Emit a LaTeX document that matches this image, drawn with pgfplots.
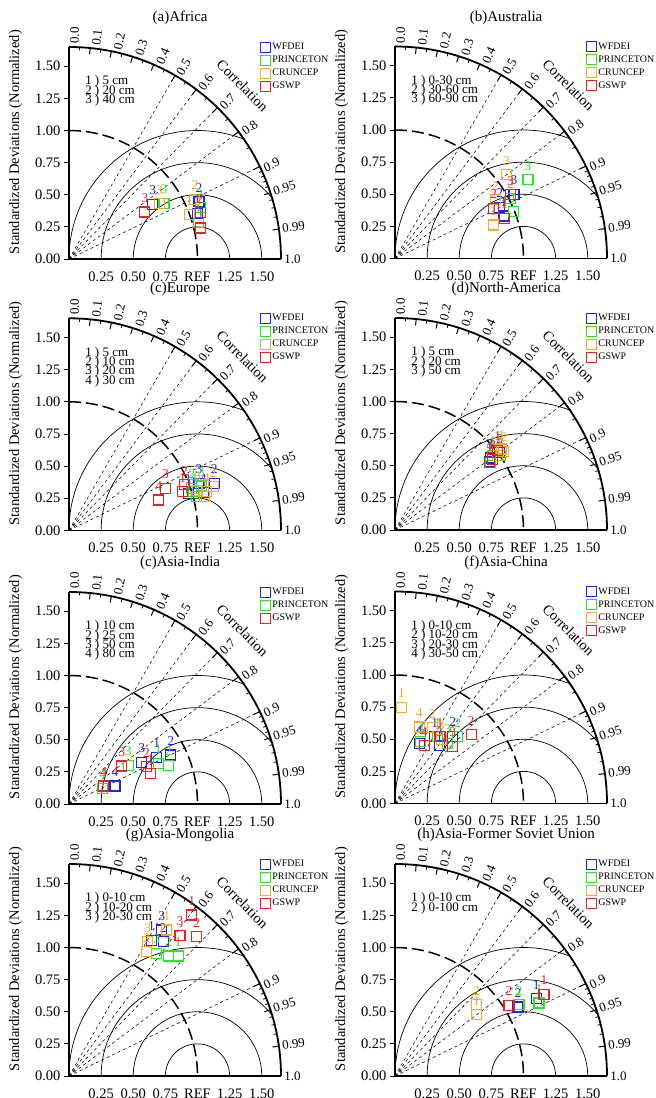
\documentclass[border=0pt]{standalone}
\usepackage{pgfplots}
\pgfplotsset{compat=1.18}
\usepackage{fontspec}
\setmainfont{Liberation Serif}
\definecolor{cWF}{RGB}{35,35,225}
\definecolor{cPR}{RGB}{45,225,45}
\definecolor{cCR}{RGB}{245,170,40}
\definecolor{cGS}{RGB}{230,35,35}
\newcommand{\corrfont}{\fontsize{13}{14}\selectfont}
% correlation label: text, rotation, x, y
\newcommand{\CL}[4]{\node[rotate=#2, anchor=west, inner sep=0pt, font=\corrfont] at (#3,#4) {#1};}
\newcommand{\MajT}[1]{\draw[line width=1pt] ({1.65*#1},{1.65*sqrt(1-#1*#1)}) -- ({1.60*#1},{1.60*sqrt(1-#1*#1)});}
\newcommand{\MinT}[1]{\draw[line width=0.8pt] ({1.65*#1},{1.65*sqrt(1-#1*#1)}) -- ({1.625*#1},{1.625*sqrt(1-#1*#1)});}
\newcommand{\Ray}[1]{\draw[line width=0.55pt, dash pattern=on 3pt off 3pt] (0,0) -- ({1.65*#1},{1.65*sqrt(1-#1*#1)});}
\newcommand{\TaylorFrame}{%
  \draw[line width=0.7pt] (0.75,0) arc[start angle=180,end angle=0,radius=0.25];
  \draw[line width=0.7pt] (0.5,0) arc[start angle=180,end angle=0,radius=0.5];
  \draw[line width=0.7pt] (0.25,0) arc[start angle=180,end angle=39.3,radius=0.75];
  \draw[line width=0.7pt] (0,0) arc[start angle=180,end angle=68.8,radius=1];
  \Ray{0.5}\Ray{0.6}\Ray{0.7}\Ray{0.8}\Ray{0.9}
  \draw[line width=1.5pt, dash pattern=on 12pt off 5pt] (0,1) arc[start angle=90,end angle=0,radius=1];
  \draw[line width=1.8pt] (0,1.65) arc[start angle=90,end angle=0,radius=1.65];
  \MajT{0.1}\MajT{0.2}\MajT{0.3}\MajT{0.4}\MajT{0.5}\MajT{0.6}\MajT{0.7}\MajT{0.8}\MajT{0.9}\MajT{0.95}\MajT{0.99}
  \MinT{0.05}\MinT{0.15}\MinT{0.25}\MinT{0.35}\MinT{0.45}\MinT{0.55}\MinT{0.65}\MinT{0.75}\MinT{0.85}
  \MinT{0.91}\MinT{0.92}\MinT{0.93}\MinT{0.94}\MinT{0.96}\MinT{0.97}\MinT{0.98}
  \CL{0.0}{90}{0.0438}{1.6744}
  \CL{0.1}{84.261}{0.2109}{1.6617}
  \CL{0.2}{78.463}{0.3787}{1.6316}
  \CL{0.3}{72.542}{0.5443}{1.5841}
  \CL{0.4}{66.422}{0.7050}{1.5194}
  \CL{0.5}{60}{0.8597}{1.4375}
  \CL{0.6}{53.130}{1.0257}{1.3241}
  \CL{0.7}{45.573}{1.1892}{1.1796}
  \CL{0.8}{36.870}{1.3558}{0.9836}
  \CL{0.9}{25.842}{1.5190}{0.7059}
  \CL{0.95}{18.195}{1.5913}{0.5230}
  \CL{0.99}{8.110}{1.6583}{0.2363}
  \CL{1.0}{0}{1.675}{0}
  \node[rotate=-45, font=\fontsize{14.5}{16}\selectfont] at (1.3506,1.3506) {Correlation};
  \node[rotate=90, font=\fontsize{14.5}{16}\selectfont] at (-0.415,0.91) {Standardized Deviations (Normalized)};
}
\newcommand{\PanelTitle}[1]{\node[font=\fontsize{15}{17}\selectfont] at (0.865,1.875) {#1};}
% depth legend line: baseline y, text
\newcommand{\DL}[2]{\node[anchor=base west, inner sep=0pt, font=\fontsize{13}{13}\selectfont] at (0.125,#1) {#2};}
\newcommand{\DepthsThree}[3]{\DL{1.355}{#1}\DL{1.2826}{#2}\DL{1.2102}{#3}}
\newcommand{\DepthsFour}[4]{\DL{1.355}{#1}\DL{1.2826}{#2}\DL{1.2102}{#3}\DL{1.1378}{#4}}
\pgfplotsset{
  taylor/.style={
    scale only axis, width=212pt, height=212pt,
    xmin=0, xmax=1.65, ymin=0, ymax=1.65,
    anchor=south west,
    axis lines*=left,
    axis line style={line width=1.3pt},
    clip=false,
    xtick={0.25,0.5,0.75,1,1.25,1.5},
    xticklabels={0.25,0.50,0.75,REF,1.25,1.50},
    ytick={0,0.25,0.5,0.75,1,1.25,1.5},
    yticklabels={0.00,0.25,0.50,0.75,1.00,1.25,1.50},
    tick label style={font=\fontsize{14.5}{16}\selectfont},
    x tick style={draw=none},
    y tick style={line width=0.8pt, black},
    tick align=outside, major tick length=5pt,
    xticklabel style={yshift=-4pt},
    legend style={at={(0.9006,1.0242)}, anchor=north west, draw=none, fill=none, inner sep=0pt,
      font=\fontsize{10}{12}\selectfont, row sep=3pt, column sep=1.5pt, nodes={inner sep=0.8pt}},
    legend cell align=left,
  },
  pt/.style={only marks, mark=square, mark size=5pt, mark options={line width=1.1pt},
    nodes near coords, point meta=explicit symbolic,
    every node near coord/.append style={inner sep=0pt, yshift=9pt, font=\fontsize{13.5}{14}\selectfont}},
  wf/.style={pt, color=cWF},
  pr/.style={pt, color=cPR},
  cr/.style={pt, color=cCR},
  gs/.style={pt, color=cGS},
}
\begin{document}
\begin{tikzpicture}
\useasboundingbox (0,0) rectangle (656pt,1098pt);
% (a) Africa
\begin{axis}[taylor, at={(69pt,839pt)}]
\TaylorFrame
\PanelTitle{(a)Africa}
\DepthsThree{1 ) 5 cm}{2 ) 20 cm}{3 ) 40 cm}
\addplot[wf] coordinates {(0.999,0.356) [1] (1.012,0.445) [2] (0.651,0.425) [3]}; \addlegendentry{WFDEI}
\addplot[pr] coordinates {(1.006,0.283) [1] (1.02,0.40) [2] (0.739,0.433) [3]}; \addlegendentry{PRINCETON}
\addplot[cr] coordinates {(0.936,0.345) [1] (0.98,0.465) [2] (0.703,0.430) [3]}; \addlegendentry{CRUNCEP}
\addplot[gs] coordinates {(1.025,0.241) [1] (1.02,0.36) [2] (0.591,0.366) [3]}; \addlegendentry{GSWP}
\end{axis}
% (b) Australia
\begin{axis}[taylor, at={(395pt,839.5pt)}]
\TaylorFrame
\PanelTitle{(b)Australia}
\DepthsThree{1 ) 0-30 cm}{2 ) 30-60 cm}{3 ) 60-90 cm}
\addplot[wf] coordinates {(0.847,0.331) [1] (0.816,0.40) [2] (0.926,0.50) [3]}; \addlegendentry{WFDEI}
\addplot[pr] coordinates {(0.92,0.365) [1] (0.90,0.47) [2] (1.035,0.613) [3]}; \addlegendentry{PRINCETON}
\addplot[cr] coordinates {(0.769,0.261) [1] (0.782,0.456) [2] (0.868,0.652) [3]}; \addlegendentry{CRUNCEP}
\addplot[gs] coordinates {(0.853,0.313) [1] (0.769,0.391) [2] (0.90,0.495) [3]}; \addlegendentry{GSWP}
\end{axis}
% (c) Europe
\begin{axis}[taylor, at={(69pt,567.7pt)}]
\TaylorFrame
\PanelTitle{(c)Europe}
\DepthsFour{1 ) 5 cm}{2 ) 10 cm}{3 ) 20 cm}{4 ) 30 cm}
\addplot[wf] coordinates {(0.929,0.288) [1] (1.131,0.366) [2] (1.012,0.366) [3] (1.045,0.293) [4]}; \addlegendentry{WFDEI}
\addplot[pr] coordinates {(0.994,0.262) [1] (0.955,0.327) [2] (1.03,0.345) [3] (0.97,0.30) [4]}; \addlegendentry{PRINCETON}
\addplot[cr] coordinates {(1.058,0.262) [1] (1.123,0.34) [2] (1.00,0.31) [3] (1.07,0.30) [4]}; \addlegendentry{CRUNCEP}
\addplot[gs] coordinates {(0.885,0.30) [1] (0.898,0.353) [2] (0.752,0.327) [3] (0.698,0.236) [4]}; \addlegendentry{GSWP}
\end{axis}
% (d) North America
\begin{axis}[taylor, at={(395pt,568pt)}]
\TaylorFrame
\PanelTitle{(d)North-America}
\DepthsThree{1 ) 5 cm}{2 ) 20 cm}{3 ) 50 cm}
\addplot[wf] coordinates {(0.738,0.535) [1] (0.816,0.60) [2] (0.74,0.56) [3]}; \addlegendentry{WFDEI}
\addplot[pr] coordinates {(0.76,0.58) [1] (0.821,0.579) [2] (0.743,0.527) [3]}; \addlegendentry{PRINCETON}
\addplot[cr] coordinates {(0.83,0.63) [1] (0.847,0.613) [2] (0.80,0.58) [3]}; \addlegendentry{CRUNCEP}
\addplot[gs] coordinates {(0.80,0.62) [1] (0.738,0.522) [2] (0.76,0.55) [3]}; \addlegendentry{GSWP}
\end{axis}
% (e) India
\begin{axis}[taylor, at={(69pt,294pt)}]
\TaylorFrame
\PanelTitle{(c)Asia-India}
\DepthsFour{1 ) 10 cm}{2 ) 25 cm}{3 ) 50 cm}{4 ) 80 cm}
\addplot[wf] coordinates {(0.682,0.363) [1] (0.791,0.381) [2] (0.566,0.322) [3] (0.358,0.14) [4]}; \addlegendentry{WFDEI}
\addplot[pr] coordinates {(0.695,0.316) [1] (0.773,0.303) [2] (0.462,0.303) [3] (0.262,0.122) [4]}; \addlegendentry{PRINCETON}
\addplot[gs] coordinates {(0.636,0.239) [1] (0.604,0.29) [2] (0.41,0.296) [3] (0.272,0.14) [4]}; \addlegendentry{GSWP}
\end{axis}
% (f) China
\begin{axis}[taylor, at={(395pt,294.5pt)}]
\TaylorFrame
\PanelTitle{(f)Asia-China}
\DepthsFour{1 ) 0-10 cm}{2 ) 10-20 cm}{3 ) 20-30 cm}{4 ) 30-50 cm}
\addplot[wf] coordinates {(0.31,0.52) [1] (0.449,0.522) [2] (0.344,0.449) [3] (0.188,0.464) [4]}; \addlegendentry{WFDEI}
\addplot[pr] coordinates {(0.33,0.52) [1] (0.488,0.52) [2] (0.41,0.47) [3] (0.20,0.48) [4]}; \addlegendentry{PRINCETON}
\addplot[cr] coordinates {(0.05,0.748) [1] (0.29,0.59) [2] (0.36,0.50) [3] (0.188,0.595) [4]}; \addlegendentry{CRUNCEP}
\addplot[gs] coordinates {(0.35,0.52) [1] (0.592,0.535) [2] (0.449,0.443) [3] (0.227,0.449) [4]}; \addlegendentry{GSWP}
\end{axis}
% (g) Mongolia
\begin{axis}[taylor, at={(69pt,22pt)}]
\TaylorFrame
\PanelTitle{(g)Asia-Mongolia}
\DepthsThree{1 ) 0-10 cm}{2 ) 10-20 cm}{3 ) 20-30 cm}
\addplot[wf] coordinates {(0.643,1.058) [1] (0.734,1.045) [2] (0.721,1.136) [3]}; \addlegendentry{WFDEI}
\addplot[pr] coordinates {(0.851,0.934) [1] (0.773,0.934) [2] (0.682,0.955) [3]}; \addlegendentry{PRINCETON}
\addplot[cr] coordinates {(0.76,1.136) [1] (0.604,0.968) [2] (0.612,1.045) [3]}; \addlegendentry{CRUNCEP}
\addplot[gs] coordinates {(0.955,1.253) [1] (0.994,1.084) [2] (0.864,1.097) [3]}; \addlegendentry{GSWP}
\end{axis}
% (h) Former Soviet Union
\begin{axis}[taylor, at={(395pt,22pt)}]
\TaylorFrame
\PanelTitle{(h)Asia-Former Soviet Union}
\DL{1.355}{1 ) 0-10 cm}\DL{1.2826}{2 ) 0-100 cm}
\addplot[wf] coordinates {(1.10,0.60) [1] (0.957,0.537) [2]}; \addlegendentry{WFDEI}
\addplot[pr] coordinates {(1.121,0.568) [1] (0.965,0.555) [2]}; \addlegendentry{PRINCETON}
\addplot[cr] coordinates {(0.634,0.477) [1] (0.634,0.555) [2]}; \addlegendentry{CRUNCEP}
\addplot[gs] coordinates {(1.16,0.634) [1] (0.887,0.55) [2]}; \addlegendentry{GSWP}
\end{axis}
\end{tikzpicture}
\end{document}
